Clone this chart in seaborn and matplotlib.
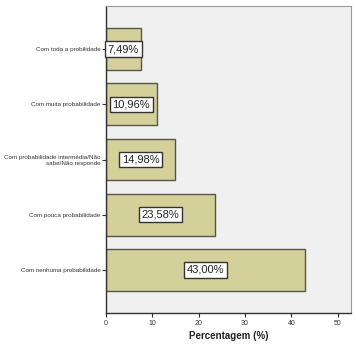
import pandas as pd
import matplotlib.pyplot as plt
import seaborn as sns

# Dados
categorias = ['Com toda a probilidade', 'Com muita probabilidade',
              'Com probabilidade intermédia/Não\nsabe/Não responde',
              'Com pouca probabilidade', 'Com nenhuma probabilidade']
percentagens = [7.49, 10.96, 14.98, 23.58, 43.00]
rotulos = ['7,49%', '10,96%', '14,98%', '23,58%', '43,00%']
ticks_x = [0, 10, 20, 30, 40, 50]

df = pd.DataFrame({'categoria': categorias, 'pct': percentagens})

sns.set_style('white')
plt.rcParams['font.family'] = ['Liberation Sans Narrow', 'Liberation Sans', 'DejaVu Sans']

fig = plt.figure(figsize=(3.56, 3.49), dpi=100)
ax = fig.add_axes([106 / 356, 1 - 313 / 349, 245 / 356, 307 / 349])
ax.set_facecolor('#f0f0f0')

sns.barplot(data=df, x='pct', y='categoria', orient='h', ax=ax,
            color='#d4d09a', edgecolor='#55554a', linewidth=1.0,
            width=0.76, saturation=1)

for i, (v, r) in enumerate(zip(percentagens, rotulos)):
    ax.text(v / 2, i, r, ha='center', va='center', fontsize=8, color='#222222',
            bbox=dict(boxstyle='square,pad=0.25', facecolor='white',
                      edgecolor='#333333', linewidth=1.0))

ax.set_xlim(0, 52.9)
ax.set_ylim(4.78, -0.78)
ax.set_xticks(ticks_x)
ax.set_xticklabels([str(t) for t in ticks_x], fontsize=5, color='#333333')
ax.tick_params(axis='y', labelsize=4.5, colors='#333333', length=3, width=0.8,
               left=True, direction='out', pad=1)
ax.tick_params(axis='x', length=3, width=0.8, bottom=True, direction='out', pad=2)
for lbl in ax.get_yticklabels():
    lbl.set_horizontalalignment('right')
    lbl.set_multialignment('right')
ax.set_ylabel('')
ax.set_xlabel('Percentagem (%)', fontsize=7, fontweight='bold', color='#222222', labelpad=3)

for s in ['left', 'bottom']:
    ax.spines[s].set_color('#333333')
    ax.spines[s].set_linewidth(1.0)
for s in ['top', 'right']:
    ax.spines[s].set_color('#999999')
    ax.spines[s].set_linewidth(0.8)

fig.savefig('out.png', dpi=100, facecolor='white')
